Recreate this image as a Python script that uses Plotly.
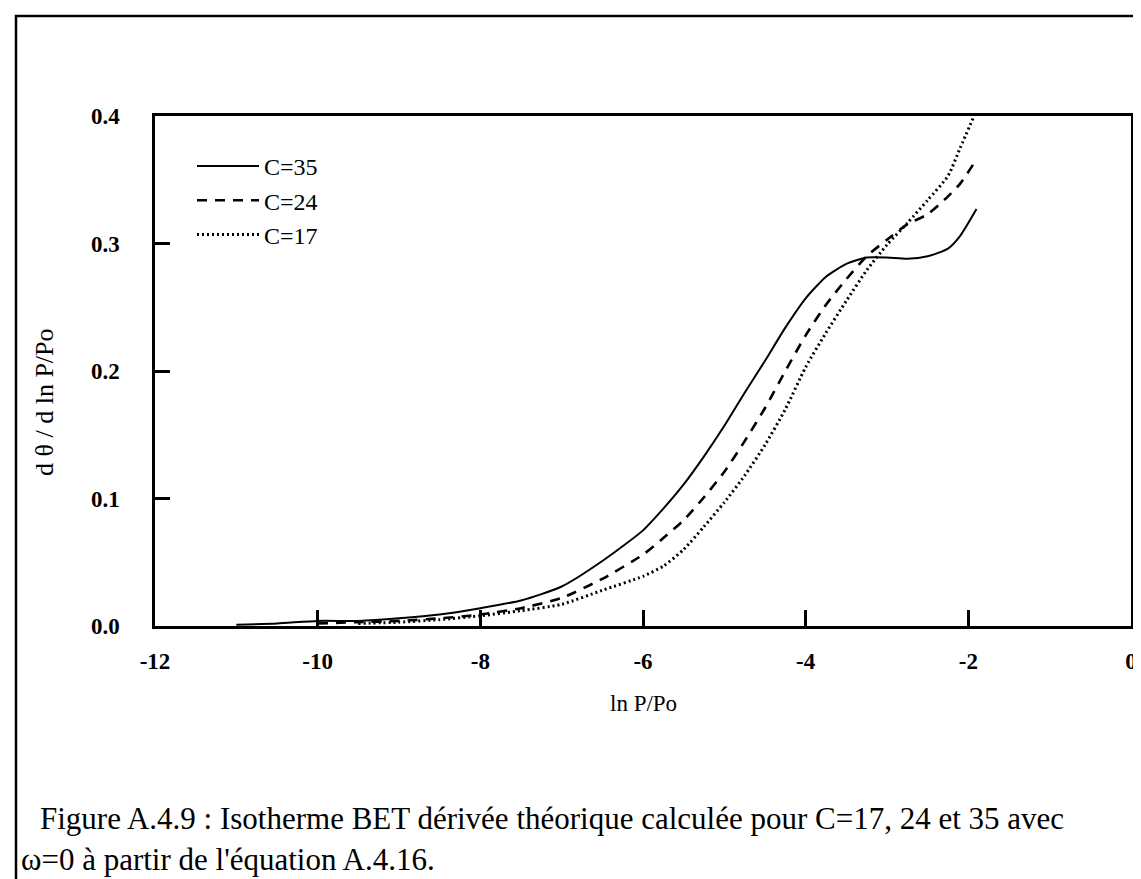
import plotly.graph_objects as go

# ---- data ----
x_c35 = [-11.0, -10.5, -10.0, -9.5, -9.0, -8.5, -8.0, -7.5, -7.0, -6.5, -6.0, -5.75, -5.5, -5.25,
         -5.0, -4.75, -4.5, -4.25, -4.0, -3.75, -3.5, -3.25, -3.0, -2.75, -2.5, -2.25, -2.1, -1.9]
y_c35 = [0.001, 0.002, 0.004, 0.004, 0.006, 0.009, 0.014, 0.020, 0.031, 0.051, 0.075, 0.092, 0.111, 0.133,
         0.157, 0.183, 0.208, 0.234, 0.257, 0.274, 0.284, 0.289, 0.289, 0.288, 0.290, 0.296, 0.306, 0.327]

x_c24 = [-10.0, -9.5, -9.0, -8.5, -8.0, -7.5, -7.0, -6.5, -6.0, -5.75, -5.5, -5.25,
         -5.0, -4.75, -4.5, -4.25, -4.0, -3.75, -3.5, -3.25, -3.0, -2.75, -2.5, -2.25, -2.1, -1.9]
y_c24 = [0.002, 0.003, 0.004, 0.006, 0.009, 0.014, 0.022, 0.037, 0.056, 0.069, 0.083, 0.101,
         0.121, 0.145, 0.171, 0.200, 0.228, 0.252, 0.272, 0.290, 0.303, 0.315, 0.323, 0.337, 0.347, 0.366]

x_c17 = [-9.5, -9.0, -8.5, -8.0, -7.5, -7.0, -6.5, -6.0, -5.75, -5.5, -5.25,
         -5.0, -4.75, -4.5, -4.25, -4.0, -3.75, -3.5, -3.25, -3.0, -2.75, -2.5, -2.25, -2.1, -1.93]
y_c17 = [0.002, 0.003, 0.005, 0.008, 0.012, 0.017, 0.028, 0.039, 0.047, 0.060, 0.078,
         0.097, 0.118, 0.142, 0.170, 0.203, 0.230, 0.255, 0.279, 0.299, 0.316, 0.334, 0.353, 0.375, 0.400]

series_names = ["C=35", "C=24", "C=17"]
x_ticks = [-12, -10, -8, -6, -4, -2, 0]
x_tick_labels = ["-12", "-10", "-8", "-6", "-4", "-2", "0"]
y_ticks = [0.0, 0.1, 0.2, 0.3, 0.4]
y_tick_labels = ["0.0", "0.1", "0.2", "0.3", "0.4"]

x_title = "ln P/Po"
y_title = "d θ / d ln P/Po"
caption1 = "Figure A.4.9 : Isotherme BET dérivée théorique calculée pour C=17, 24 et 35 avec"
caption2 = "ω=0 à partir de l'équation A.4.16."

SERIF = "Liberation Serif, Times New Roman, serif"

fig = go.Figure()
fig.add_trace(go.Scatter(x=x_c35, y=y_c35, mode="lines", name=series_names[0],
                         line=dict(color="black", width=2, dash="solid", shape="spline", smoothing=0.6)))
fig.add_trace(go.Scatter(x=x_c24, y=y_c24, mode="lines", name=series_names[1],
                         line=dict(color="black", width=2.6, dash="10px,8px", shape="spline", smoothing=0.6)))
fig.add_trace(go.Scatter(x=x_c17, y=y_c17, mode="lines", name=series_names[2],
                         line=dict(color="black", width=3, dash="2px,3px", shape="spline", smoothing=0.6)))

W, H = 1141, 879
L, R, T, B = 147, 1123, 108, 618
pw, ph = R - L, B - T


def px(xp):
    return (xp - L) / pw


def py(yp):
    return (B - yp) / ph


fig.update_layout(
    width=W, height=H,
    margin=dict(l=L, r=W - R, t=T, b=H - B),
    paper_bgcolor="white", plot_bgcolor="white",
    font=dict(family=SERIF, color="black", size=22),
    showlegend=True,
    legend=dict(x=px(184), y=py(136), xanchor="left", yanchor="top",
                bgcolor="rgba(0,0,0,0)", borderwidth=0,
                font=dict(family=SERIF, size=24, color="black"),
                itemwidth=62, tracegroupgap=0),
)

fig.update_xaxes(range=[-12, 0], tickvals=x_ticks, ticktext=x_tick_labels,
                 showline=True, linecolor="black", linewidth=2.5, mirror=True,
                 ticks="inside", ticklen=16, tickwidth=2.5, tickcolor="black",
                 showgrid=False, zeroline=False, ticklabelstandoff=13,
                 tickfont=dict(family=SERIF, size=23, color="black", weight="bold"))
fig.update_yaxes(range=[0, 0.4], tickvals=y_ticks, ticktext=y_tick_labels,
                 showline=True, linecolor="black", linewidth=2.5, mirror=True,
                 ticks="inside", ticklen=15, tickwidth=2.5, tickcolor="black",
                 showgrid=False, zeroline=False, ticklabelstandoff=28,
                 tickfont=dict(family=SERIF, size=23, color="black", weight="bold"))

# axis titles
fig.add_annotation(text=x_title, xref="paper", yref="paper", x=0.5, y=py(695),
                   xanchor="center", yanchor="middle", showarrow=False,
                   font=dict(family=SERIF, size=23, color="black"))
fig.add_annotation(text=y_title, xref="paper", yref="paper", x=px(36), y=py(394),
                   xanchor="center", yanchor="middle", showarrow=False, textangle=-90,
                   font=dict(family=SERIF, size=26, color="black"))

# caption
fig.add_annotation(text=caption1, xref="paper", yref="paper", x=px(30), y=py(810),
                   xanchor="left", yanchor="middle", showarrow=False,
                   font=dict(family=SERIF, size=31, color="black"))
fig.add_annotation(text=caption2, xref="paper", yref="paper", x=px(11), y=py(851),
                   xanchor="left", yanchor="middle", showarrow=False,
                   font=dict(family=SERIF, size=31, color="black"))

# outer frame of the figure
fig.add_shape(type="rect", xref="paper", yref="paper",
              x0=px(8), x1=px(1137), y0=py(895), y1=py(8),
              line=dict(color="black", width=2.5), fillcolor="rgba(0,0,0,0)", layer="below")

fig.write_html("out.html")
